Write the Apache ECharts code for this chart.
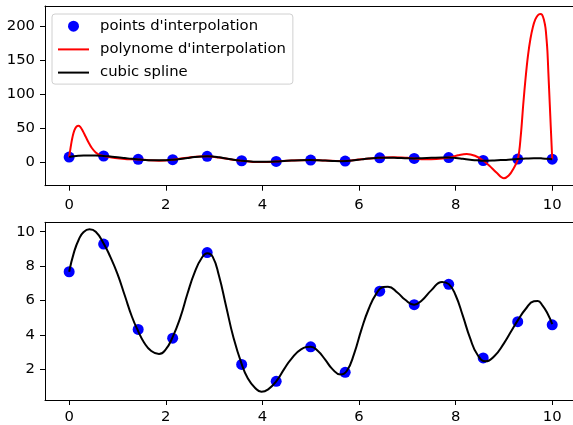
<!DOCTYPE html>
<html><head><meta charset="utf-8">
<script src="https://cdn.jsdelivr.net/npm/echarts@6/dist/echarts.min.js"></script>
<style>html,body{margin:0;padding:0;background:#fff}#c{width:573px;height:425px}</style>
</head><body><div id="c"></div>
<script>
// interpolation points
const ptsX = [0, 0.714, 1.429, 2.143, 2.857, 3.571, 4.286, 5.0, 5.714, 6.429, 7.143, 7.857, 8.571, 9.286, 10.0];
const ptsY = [7.67, 9.28, 4.31, 3.8, 8.79, 2.27, 1.29, 3.3, 1.81, 6.54, 5.75, 6.94, 2.65, 4.76, 4.58];
// cubic spline curve
const splineX = [0, 0.1, 0.2, 0.3, 0.42, 0.55, 0.714, 0.85, 1.0, 1.15, 1.3, 1.43, 1.55, 1.7, 1.86, 2.0, 2.14, 2.3, 2.45, 2.6, 2.75, 2.86, 2.97, 3.1, 3.25, 3.4, 3.57, 3.7, 3.85, 3.98, 4.12, 4.29, 4.45, 4.6, 4.8, 5.0, 5.15, 5.3, 5.45, 5.62, 5.75, 5.9, 6.05, 6.2, 6.35, 6.5, 6.6, 6.8, 6.95, 7.14, 7.3, 7.5, 7.72, 7.86, 8.0, 8.15, 8.3, 8.45, 8.62, 8.8, 9.0, 9.15, 9.29, 9.45, 9.62, 9.7, 9.8, 9.9, 10.0];
const splineY = [7.67, 8.8, 9.55, 9.98, 10.14, 10.0, 9.32, 8.55, 7.55, 6.3, 5.05, 4.2, 3.55, 3.05, 2.88, 3.15, 3.85, 5.0, 6.4, 7.65, 8.5, 8.75, 8.55, 7.45, 5.65, 3.85, 2.3, 1.45, 0.9, 0.68, 0.82, 1.3, 2.0, 2.6, 3.15, 3.3, 3.05, 2.55, 2.0, 1.68, 1.9, 2.9, 4.3, 5.5, 6.35, 6.78, 6.8, 6.45, 6.05, 5.75, 6.0, 6.6, 7.08, 6.95, 6.3, 5.1, 3.8, 2.85, 2.45, 2.75, 3.5, 4.2, 4.85, 5.5, 5.95, 5.97, 5.7, 5.25, 4.62];
// Lagrange interpolation polynomial
const polyX = [0, 0.02, 0.04, 0.06, 0.09, 0.12, 0.16, 0.19, 0.23, 0.28, 0.34, 0.4, 0.47, 0.55, 0.63, 0.714, 0.85, 1.0, 1.2, 1.43, 1.65, 1.86, 2.14, 2.45, 2.7, 2.86, 3.1, 3.35, 3.57, 3.8, 4.0, 4.29, 4.6, 5.0, 5.3, 5.71, 6.05, 6.43, 6.7, 7.0, 7.14, 7.35, 7.6, 7.86, 8.05, 8.23, 8.4, 8.57, 8.7, 8.85, 9.0, 9.1, 9.2, 9.29, 9.35, 9.4, 9.45, 9.5, 9.55, 9.6, 9.65, 9.7, 9.75, 9.79, 9.83, 9.86, 9.88, 9.9, 9.92, 9.94, 9.96, 9.98, 10.0];
const polyY = [7.7, 17, 26, 34, 43, 49, 53, 53.6, 52, 46.5, 38, 29.5, 21, 14.5, 10.8, 9.3, 7.5, 5.8, 4.6, 4.3, 3.0, 2.4, 3.8, 6.8, 8.7, 8.8, 7.0, 4.2, 2.3, 0.6, 0.3, 1.3, 2.8, 3.3, 2.6, 1.8, 4.6, 6.6, 7.4, 6.6, 5.75, 4.5, 4.8, 6.95, 10.4, 12.3, 9.6, 2.65, -5, -15.5, -23.5, -19.5, -9, 4.75, 40, 85, 125, 158, 182, 199, 210, 216, 218, 217, 209, 198, 183, 164, 132, 100, 68, 36, 4.6];
const xTicks = [0, 2, 4, 6, 8, 10];
const topYTicks = [0, 50, 100, 150, 200];
const botYTicks = [2, 4, 6, 8, 10];
const legendNames = ["points d'interpolation", "polynome d'interpolation", "cubic spline"];

const FONT = 'DejaVu Sans';
const FS = 14.8;
const XMAX = 10.43;
const pair = (xs, ys) => xs.map((x, i) => [x, ys[i]]);
const spine = {show: true, onZero: false, lineStyle: {color: '#000', width: 1}};

function xAx(idx, margin) {
  return {
    type: 'value', gridIndex: idx, min: -0.5, max: XMAX, position: 'bottom',
    axisLine: spine, splitLine: {show: false},
    axisTick: {show: true, customValues: xTicks, length: 5, lineStyle: {color: '#000', width: 1}},
    axisLabel: {customValues: xTicks, margin: margin, color: '#000', fontFamily: FONT, fontSize: FS}
  };
}
function xTop(idx) {
  return {
    type: 'value', gridIndex: idx, min: -0.5, max: XMAX, position: 'top',
    axisLine: spine, splitLine: {show: false}, axisTick: {show: false}, axisLabel: {show: false}
  };
}
function yAx(idx, min, max, ticks) {
  return {
    type: 'value', gridIndex: idx, min: min, max: max, position: 'left',
    axisLine: spine, splitLine: {show: false},
    axisTick: {show: true, customValues: ticks, length: 5, lineStyle: {color: '#000', width: 1}},
    axisLabel: {customValues: ticks, margin: 10, color: '#000', fontFamily: FONT, fontSize: FS}
  };
}

const chart = echarts.init(document.getElementById('c'), null, {renderer: 'canvas'});
chart.setOption({
  animation: false,
  backgroundColor: '#fff',
  grid: [
    {left: 45, top: 6, right: 0, height: 179.7},
    {left: 45, top: 222.3, right: 0, height: 180}
  ],
  xAxis: [xAx(0, 12), xAx(1, 10), xTop(0), xTop(1)],
  yAxis: [yAx(0, -34.4, 229.8, topYTicks), yAx(1, 0.2, 10.55, botYTicks)],
  legend: {
    left: 52, top: 14, orient: 'vertical',
    data: [
      {name: legendNames[0], icon: 'circle'},
      {name: legendNames[1], icon: 'path://M0,0H31V2H0Z'},
      {name: legendNames[2], icon: 'path://M0,0H31V2H0Z'}
    ],
    itemWidth: 31, itemHeight: 11, itemGap: 8.2, symbolKeepAspect: true,
    padding: [4.7, 7, 4, 6],
    backgroundColor: 'rgba(255,255,255,0.8)', borderColor: '#d0d0d0', borderWidth: 1, borderRadius: 3,
    textStyle: {fontFamily: FONT, fontSize: FS, color: '#000', lineHeight: 14, padding: [0, 0, 0, 6]}
  },
  series: [
    {name: legendNames[0], type: 'scatter', xAxisIndex: 0, yAxisIndex: 0, data: pair(ptsX, ptsY), symbol: 'circle', symbolSize: 11, itemStyle: {color: '#0000ff', opacity: 1}},
    {name: legendNames[1], type: 'line', xAxisIndex: 0, yAxisIndex: 0, data: pair(polyX, polyY), symbol: 'none', smooth: 0.35, lineStyle: {color: '#ff0000', width: 2}, itemStyle: {color: '#ff0000'}},
    {name: legendNames[2], type: 'line', xAxisIndex: 0, yAxisIndex: 0, data: pair(splineX, splineY), symbol: 'none', smooth: 0.5, lineStyle: {color: '#000', width: 2}, itemStyle: {color: '#000'}},
    {name: 'pts2', type: 'scatter', xAxisIndex: 1, yAxisIndex: 1, data: pair(ptsX, ptsY), symbol: 'circle', symbolSize: 11, itemStyle: {color: '#0000ff', opacity: 1}},
    {name: 'spline2', type: 'line', xAxisIndex: 1, yAxisIndex: 1, data: pair(splineX, splineY), symbol: 'none', smooth: 0.5, lineStyle: {color: '#000', width: 2}, itemStyle: {color: '#000'}}
  ]
});
</script>
</body></html>
